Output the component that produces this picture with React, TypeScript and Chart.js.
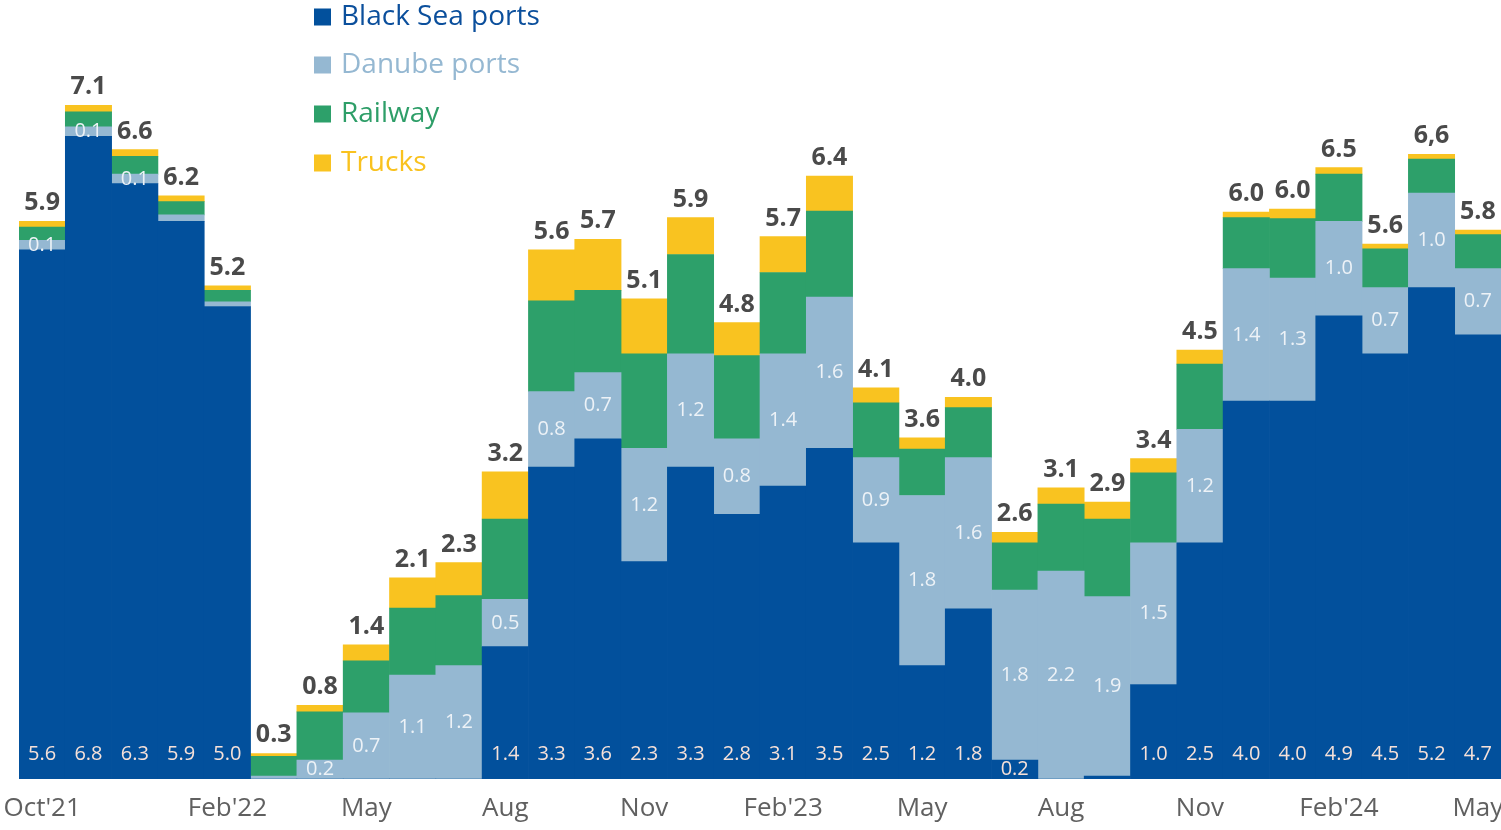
import React, { useEffect, useRef } from "react";
import { Chart, registerables } from "chart.js";

Chart.register(...registerables);

const categories = [
  "Oct'21", "Nov'21", "Dec'21", "Jan'22", "Feb'22", "Mar'22", "Apr'22", "May'22",
  "Jun'22", "Jul'22", "Aug'22", "Sep'22", "Oct'22", "Nov'22", "Dec'22", "Jan'23",
  "Feb'23", "Mar'23", "Apr'23", "May'23", "Jun'23", "Jul'23", "Aug'23", "Sep'23",
  "Oct'23", "Nov'23", "Dec'23", "Jan'24", "Feb'24", "Mar'24", "Apr'24", "May'24",
];

const tickLabels = [
  "Oct'21", "", "", "", "Feb'22", "", "", "May",
  "", "", "Aug", "", "", "Nov", "", "",
  "Feb'23", "", "", "May", "", "", "Aug", "",
  "", "Nov", "", "", "Feb'24", "", "", "May",
];

const blackSea = [
  5.6, 6.8, 6.3, 5.9, 5.0, 0, 0, 0,
  0, 0, 1.4, 3.3, 3.6, 2.3, 3.3, 2.8,
  3.1, 3.5, 2.5, 1.2, 1.8, 0.2, 0, 0.03,
  1.0, 2.5, 4.0, 4.0, 4.9, 4.5, 5.2, 4.7,
];

const danube = [
  0.1, 0.1, 0.1, 0.07, 0.05, 0.03, 0.2, 0.7,
  1.1, 1.2, 0.5, 0.8, 0.7, 1.2, 1.2, 0.8,
  1.4, 1.6, 0.9, 1.8, 1.6, 1.8, 2.2, 1.9,
  1.5, 1.2, 1.4, 1.3, 1.0, 0.7, 1.0, 0.7,
];

const railway = [
  0.14, 0.16, 0.19, 0.14, 0.12, 0.21, 0.51, 0.55,
  0.71, 0.74, 0.85, 0.96, 0.87, 1.0, 1.05, 0.88,
  0.86, 0.91, 0.58, 0.49, 0.53, 0.5, 0.71, 0.82,
  0.74, 0.69, 0.54, 0.63, 0.5, 0.41, 0.36, 0.36,
];

const trucks = [
  0.06, 0.07, 0.07, 0.06, 0.05, 0.03, 0.07, 0.17,
  0.32, 0.35, 0.5, 0.54, 0.54, 0.58, 0.39, 0.35,
  0.38, 0.37, 0.16, 0.12, 0.11, 0.11, 0.17, 0.18,
  0.15, 0.15, 0.06, 0.1, 0.07, 0.05, 0.05, 0.05,
];

const totalLabels = [
  "5.9", "7.1", "6.6", "6.2", "5.2", "0.3", "0.8", "1.4",
  "2.1", "2.3", "3.2", "5.6", "5.7", "5.1", "5.9", "4.8",
  "5.7", "6.4", "4.1", "3.6", "4.0", "2.6", "3.1", "2.9",
  "3.4", "4.5", "6.0", "6.0", "6.5", "5.6", "6,6", "5.8",
];

const seriesNames = ["Black Sea ports", "Danube ports", "Railway", "Trucks"];
const seriesColors = ["#02509C", "#95B8D2", "#2DA06A", "#F9C320"];
const legendTextColors = ["#0B4F9C", "#95B8D2", "#2E9E68", "#F9C21F"];

const FONT = "'Open Sans', 'Noto Sans', sans-serif";

const labelsPlugin = {
  id: "customLabels",
  afterDatasetsDraw(chart: any) {
    const ctx = chart.ctx;
    const x = chart.scales.x;
    const y = chart.scales.y;
    const base = y.getPixelForValue(0);
    ctx.save();
    ctx.textAlign = "center";
    for (let i = 0; i < categories.length; i++) {
      const cx = x.getPixelForValue(i);
      if (blackSea[i] >= 0.1) {
        const top = y.getPixelForValue(blackSea[i]);
        const mid = (top + base) / 2;
        const ly = Math.max(base - 25, mid);
        ctx.font = `20px ${FONT}`;
        ctx.fillStyle = "#F6E1D9";
        ctx.textBaseline = "middle";
        ctx.fillText(blackSea[i].toFixed(1), cx, ly);
      }
      if (danube[i] >= 0.1) {
        const b0 = y.getPixelForValue(blackSea[i]);
        const b1 = y.getPixelForValue(blackSea[i] + danube[i]);
        ctx.font = `20px ${FONT}`;
        ctx.fillStyle = "#EDF2F7";
        ctx.textBaseline = "middle";
        ctx.fillText(danube[i].toFixed(1), cx, (b0 + b1) / 2);
      }
      const total = blackSea[i] + danube[i] + railway[i] + trucks[i];
      const ty = y.getPixelForValue(total);
      ctx.font = `bold 25px ${FONT}`;
      ctx.fillStyle = "#4A4A4A";
      ctx.textBaseline = "alphabetic";
      ctx.fillText(totalLabels[i], cx, ty - 11);

      if (tickLabels[i]) {
        ctx.font = `26px ${FONT}`;
        ctx.fillStyle = "#606060";
        ctx.textBaseline = "middle";
        ctx.fillText(tickLabels[i], cx, 809);
      }
    }
    ctx.restore();
  },
  afterDraw(chart: any) {
    const ctx = chart.ctx;
    ctx.save();
    const ys = [17, 65, 114, 163];
    for (let k = 0; k < seriesNames.length; k++) {
      ctx.fillStyle = seriesColors[k];
      ctx.fillRect(314, ys[k] - 8.5, 17, 17);
      ctx.font = `28px ${FONT}`;
      ctx.fillStyle = legendTextColors[k];
      ctx.textAlign = "left";
      ctx.textBaseline = "middle";
      ctx.fillText(seriesNames[k], 341, ys[k]);
    }
    ctx.restore();
  },
};

export default function App() {
  const canvasRef = useRef<HTMLCanvasElement | null>(null);

  useEffect(() => {
    if (!canvasRef.current) return;
    const series = [blackSea, danube, railway, trucks];
    const chart = new Chart(canvasRef.current, {
      type: "bar",
      data: {
        labels: categories,
        datasets: series.map((d, k) => ({
          label: seriesNames[k],
          data: d,
          backgroundColor: seriesColors[k],
          borderWidth: 0,
          barPercentage: 1,
          categoryPercentage: 1,
        })),
      },
      options: {
        animation: false,
        responsive: true,
        maintainAspectRatio: false,
        layout: { padding: { left: 19, right: 0, top: 23, bottom: 51 } },
        plugins: {
          legend: { display: false },
          tooltip: { enabled: false },
        },
        scales: {
          x: {
            stacked: true,
            display: false,
            offset: true,
          },
          y: {
            stacked: true,
            display: false,
            min: 0,
            max: 8,
          },
        },
      },
      plugins: [labelsPlugin],
    });
    return () => chart.destroy();
  }, []);

  return (
    <div style={{ position: "fixed", left: 0, top: 0, width: 1501, height: 830, background: "#fff" }}>
      <canvas ref={canvasRef} />
    </div>
  );
}
